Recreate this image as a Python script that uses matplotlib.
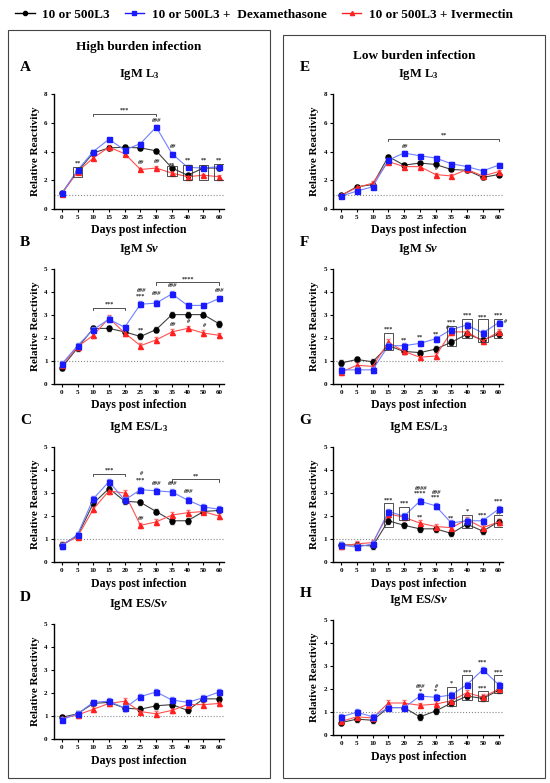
import numpy as np
import matplotlib.pyplot as plt
from matplotlib.lines import Line2D
from matplotlib.patches import Rectangle

plt.rcParams['font.family'] = ['Liberation Serif', 'DejaVu Serif']
plt.rcParams['font.weight'] = 'bold'
plt.rcParams['mathtext.fontset'] = 'custom'
plt.rcParams['mathtext.rm'] = 'Liberation Serif:bold'
plt.rcParams['mathtext.bf'] = 'Liberation Serif:bold'
plt.rcParams['mathtext.it'] = 'Liberation Serif:italic:bold'
plt.rcParams['mathtext.bfit'] = 'Liberation Serif:italic:bold'

days = ['0', '5', '10', '15', '20', '25', '30', '35', '40', '50', '60']

# high burden
a_ctrl = [1.1, 2.6, 3.9, 4.25, 4.3, 4.25, 4.05, 2.85, 2.35, 2.85, 2.85]
a_dexa = [1.1, 2.7, 4.0, 4.85, 4.1, 4.55, 5.7, 3.85, 2.9, 2.85, 2.95]
a_iver = [1.05, 2.6, 3.55, 4.3, 3.85, 2.75, 2.85, 2.5, 2.25, 2.35, 2.25]

b_ctrl = [0.7, 1.55, 2.4, 2.4, 2.25, 2.05, 2.35, 3.0, 3.0, 3.0, 2.6]
b_dexa = [0.85, 1.65, 2.35, 2.8, 2.45, 3.45, 3.5, 3.9, 3.4, 3.4, 3.7]
b_iver = [0.8, 1.6, 2.1, 2.85, 2.2, 1.65, 1.9, 2.25, 2.4, 2.2, 2.1]

c_ctrl = [0.75, 1.15, 2.55, 3.2, 2.65, 2.6, 2.2, 1.8, 1.8, 2.2, 2.25]
c_dexa = [0.7, 1.2, 2.75, 3.5, 2.7, 3.15, 3.1, 3.05, 2.7, 2.4, 2.3]
c_iver = [0.75, 1.1, 2.3, 3.1, 3.0, 1.6, 1.75, 2.05, 2.15, 2.2, 2.0]

d_ctrl = [0.95, 1.1, 1.55, 1.6, 1.35, 1.3, 1.45, 1.5, 1.25, 1.75, 1.75]
d_dexa = [0.85, 1.1, 1.6, 1.65, 1.35, 1.85, 2.05, 1.7, 1.6, 1.8, 2.05]
d_iver = [0.9, 1.05, 1.3, 1.55, 1.65, 1.2, 1.1, 1.25, 1.5, 1.5, 1.55]

# low burden
e_ctrl = [0.95, 1.55, 1.7, 3.65, 3.05, 3.2, 3.1, 2.75, 2.7, 2.2, 2.4]
e_dexa = [0.9, 1.25, 1.55, 3.4, 3.9, 3.7, 3.55, 3.15, 2.95, 2.65, 3.05]
e_iver = [0.95, 1.5, 1.8, 3.3, 2.95, 2.95, 2.4, 2.3, 2.75, 2.3, 2.6]

f_ctrl = [0.9, 1.05, 0.95, 1.65, 1.4, 1.35, 1.5, 1.8, 2.15, 1.9, 2.15]
f_dexa = [0.6, 0.6, 0.6, 1.65, 1.65, 1.75, 1.95, 2.35, 2.55, 2.2, 2.65]
f_iver = [0.5, 0.8, 0.75, 1.8, 1.4, 1.15, 1.2, 2.25, 2.25, 1.85, 2.25]

g_ctrl = [0.75, 0.75, 0.7, 1.8, 1.6, 1.45, 1.45, 1.25, 1.65, 1.35, 1.75]
g_dexa = [0.75, 0.65, 0.8, 2.2, 2.0, 2.65, 2.45, 1.7, 1.8, 1.8, 2.3]
g_iver = [0.7, 0.8, 0.85, 2.1, 1.95, 1.7, 1.55, 1.5, 1.85, 1.5, 1.75]

h_ctrl = [0.55, 0.7, 0.65, 1.2, 1.2, 0.8, 1.05, 1.4, 1.7, 1.6, 1.95]
h_dexa = [0.8, 1.0, 0.8, 1.2, 1.2, 1.7, 1.65, 1.75, 2.2, 2.85, 2.2]
h_iver = [0.6, 0.8, 0.75, 1.4, 1.4, 1.3, 1.35, 1.5, 1.85, 1.65, 2.0]

err = 0.12

# significance marks: (index, y, text)
a_marks = [(1, 3.0, '**'), (6, 6.0, '###'), (7, 4.15, '##'), (5, 3.05, '##'), (6, 3.15, '##'),
           (7, 2.9, '**'), (8, 3.2, '**'), (9, 3.2, '**'), (10, 3.2, '**')]
b_marks = [(5, 3.95, '###'), (5, 3.7, '***'), (6, 3.8, '###'), (7, 4.15, '###'), (10, 3.95, '###'),
           (5, 2.2, '**'), (7, 2.45, '##'), (8, 2.6, '#'), (9, 2.4, '#')]
c_marks = [(5, 3.75, '#'), (5, 3.45, '***'), (5, 2.85, '***'), (5, 1.8, '##'),
           (6, 3.3, '###'), (7, 3.3, '###'), (8, 2.95, '###')]
d_marks = []
e_marks = [(4, 4.2, '##'), (5, 3.45, '#'), (6, 2.65, '#')]
f_marks = [(3, 2.25, '***'), (4, 1.8, '**'), (5, 1.9, '**'), (6, 2.05, '**'), (7, 2.55, '***'),
           (8, 2.85, '***'), (9, 2.8, '***'), (10, 2.85, '***'), (6.7, 2.35, '#'), (10.4, 2.6, '#')]
g_marks = [(3, 2.6, '***'), (4, 2.45, '***'), (5, 3.1, '####'), (5, 2.9, '****'), (5, 1.85, '**'),
           (6, 2.9, '###'), (6, 2.7, '***'), (7, 1.8, '**'), (8, 2.1, '*'), (9, 1.95, '***'),
           (10, 2.55, '***'), (10, 2.0, '**')]
h_marks = [(5, 2.0, '###'), (5, 1.83, '*'), (6, 2.0, '#'), (6, 1.8, '*'), (7, 2.15, '*'),
           (8, 2.65, '***'), (9, 3.05, '***'), (9, 1.95, '***'), (10, 2.65, '***')]

# boxes around points: (index, low, high)
a_boxes = [(1, 2.25, 2.95), (7, 2.3, 3.0), (8, 2.05, 3.05), (9, 2.0, 3.05), (10, 2.0, 3.1)]
f_boxes = [(3, 1.45, 2.2), (7, 1.65, 2.5), (8, 2.0, 2.8), (9, 1.8, 2.8), (10, 2.0, 2.8)]
g_boxes = [(3, 1.55, 2.55), (4, 1.85, 2.4), (8, 1.5, 2.05), (10, 1.55, 2.05)]
h_boxes = [(7, 1.25, 2.1), (8, 1.55, 2.6), (9, 1.5, 1.9), (10, 1.85, 2.6)]

# brackets: (start, end, y, text)
a_brackets = [(2, 6, 6.6, '***')]
b_brackets = [(2, 4, 3.3, '***'), (6, 10, 4.4, '****')]
c_brackets = [(2, 4, 3.85, '***'), (7, 10, 3.6, '**')]
e_brackets = [(3, 10, 4.9, '**')]

fig = plt.figure(figsize=(5.5, 7.83), dpi=100)

def panel(rect, letter, title, ctrl, dexa, iver, ymax, marks=(), boxes=(), brackets=(), xlabel=True):
    ax = fig.add_axes(rect)
    x = np.arange(len(days))
    ax.errorbar(x, ctrl, yerr=err, color='#404040', lw=0.8, marker='o', ms=3.6,
                mfc='black', mec='black', capsize=1.2, elinewidth=0.6, zorder=3)
    ax.errorbar(x, dexa, yerr=err, color='#7080ff', lw=0.8, marker='s', ms=3.6,
                mfc='#1a1aff', mec='#1a1aff', ecolor='#7080ff', capsize=1.2, elinewidth=0.6, zorder=4)
    ax.errorbar(x, iver, yerr=err, color='#ff5050', lw=0.8, marker='^', ms=3.6,
                mfc='#ff2020', mec='#ff2020', ecolor='#ff7070', capsize=1.2, elinewidth=0.6, zorder=3)
    ax.axhline(1, color='#888888', ls=':', lw=0.8, zorder=1)
    ax.set_xlim(-0.5, 10.3)
    ax.set_ylim(0, ymax)
    ax.set_xticks(x)
    ax.set_xticklabels(days)
    ax.set_yticks(np.arange(0, ymax + 1, 2 if ymax == 8 else 1))
    ax.tick_params(labelsize=5, length=2.5, width=0.8, pad=2)
    for s in ['top', 'right']:
        ax.spines[s].set_visible(False)
    for s in ['left', 'bottom']:
        ax.spines[s].set_linewidth(1.0)
    ax.set_ylabel('Relative Reactivity', fontsize=8, fontweight='bold', labelpad=3)
    if xlabel:
        ax.set_xlabel('Days post infection', fontsize=8.5, fontweight='bold', labelpad=3)
    ax.set_title(title, fontsize=9, fontweight='bold', pad=12)
    ax.text(-0.2, 1.2, letter, transform=ax.transAxes, fontsize=11, fontweight='bold')
    for i, y, t in marks:
        ax.text(i, y, t, fontsize=4.5, ha='center', va='bottom', fontstyle='italic'
                if '#' in t else 'normal', color='#222222')
    for i, lo, hi in boxes:
        ax.add_patch(Rectangle((i - 0.3, lo), 0.6, hi - lo, fill=False, lw=0.6, ec='#333333', zorder=5))
    for s0, s1, y, t in brackets:
        h = ymax * 0.02
        ax.plot([s0, s0, s1, s1], [y - h, y, y, y - h], color='#333333', lw=0.6)
        ax.text((s0 + s1) / 2, y + ymax * 0.01, t, fontsize=4.5, ha='center', va='bottom', color='#222222')
    return ax

lx, rx, w, h = 0.098, 0.606, 0.309, 0.147
panel([lx, 0.733, w, h], 'A', 'IgM L$_\\mathbf{3}$', a_ctrl, a_dexa, a_iver, 8, a_marks, a_boxes, a_brackets)
panel([lx, 0.510, w, h], 'B', 'IgM $\\mathbfit{Sv}$', b_ctrl, b_dexa, b_iver, 5, b_marks, (), b_brackets)
panel([lx, 0.282, w, h], 'C', 'IgM ES/L$_\\mathbf{3}$', c_ctrl, c_dexa, c_iver, 5, c_marks, (), c_brackets)
panel([lx, 0.056, w, h], 'D', 'IgM ES/$\\mathbfit{Sv}$', d_ctrl, d_dexa, d_iver, 5, d_marks)
panel([rx, 0.733, w, h], 'E', 'IgM L$_\\mathbf{3}$', e_ctrl, e_dexa, e_iver, 8, e_marks, (), e_brackets)
panel([rx, 0.510, w, h], 'F', 'IgM $\\mathbfit{Sv}$', f_ctrl, f_dexa, f_iver, 5, f_marks, f_boxes)
panel([rx, 0.282, w, h], 'G', 'IgM ES/L$_\\mathbf{3}$', g_ctrl, g_dexa, g_iver, 5, g_marks, g_boxes)
panel([rx, 0.061, w, h], 'H', 'IgM ES/$\\mathbfit{Sv}$', h_ctrl, h_dexa, h_iver, 5, h_marks, h_boxes)

# frames around the two columns
fig.patches.append(Rectangle((8 / 550, 1 - 778 / 783), 262 / 550, 748 / 783, transform=fig.transFigure,
                             fill=False, lw=0.8, ec='#444444'))
fig.patches.append(Rectangle((283 / 550, 1 - 778 / 783), 262 / 550, 743 / 783, transform=fig.transFigure,
                             fill=False, lw=0.8, ec='#444444'))
fig.text(139 / 550, 1 - 47 / 783, 'High burden infection', ha='center', va='center', fontsize=9.5, fontweight='bold')
fig.text(414 / 550, 1 - 56 / 783, 'Low burden infection', ha='center', va='center', fontsize=9.5, fontweight='bold')

handles = [Line2D([], [], color='black', marker='o', ms=3, lw=1),
           Line2D([], [], color='#1a1aff', marker='s', ms=3, lw=1),
           Line2D([], [], color='#ff2020', marker='^', ms=3, lw=1)]
labels = ['10 or 500L3', '10 or 500L3 +  Dexamethasone', '10 or 500L3 + Ivermectin']
fig.legend(handles, labels, loc='center', bbox_to_anchor=(0.48, 1 - 15 / 783), ncol=3, frameon=False,
           prop={'size': 9.5, 'weight': 'bold'}, handlelength=1.5, columnspacing=1.1, handletextpad=0.6)

fig.savefig('out.png', dpi=100)
